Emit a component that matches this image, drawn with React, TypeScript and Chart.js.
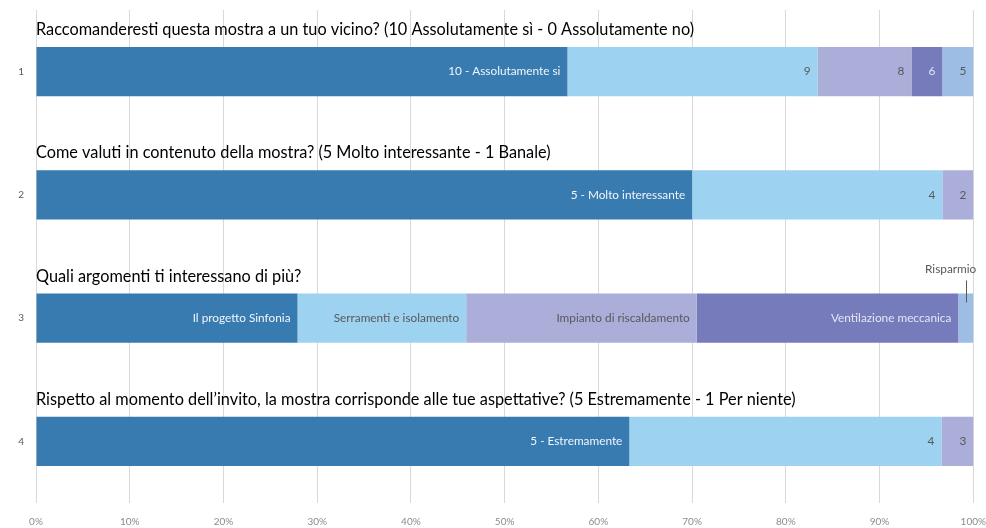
import React, { useEffect, useRef } from 'react';
import { Chart, registerables } from 'chart.js';

Chart.register(...registerables);

const categories = ['1', '2', '3', '4'];

const questions = [
  'Raccomanderesti questa mostra a un tuo vicino? (10 Assolutamente sì - 0 Assolutamente no)',
  'Come valuti in contenuto della mostra? (5 Molto interessante - 1 Banale)',
  'Quali argomenti ti interessano di più?',
  'Rispetto al momento dell’invito, la mostra corrisponde alle tue aspettative? (5 Estremamente - 1 Per niente)',
];

const q1Labels = ['10 - Assolutamente si', '9', '8', '6', '5'];
const q1Values = [56.7, 26.7, 10.0, 3.3, 3.3];

const q2Labels = ['5 - Molto interessante', '4', '2'];
const q2Values = [70.0, 26.7, 3.3];

const q3Labels = ['Il progetto Sinfonia', 'Serramenti e isolamento', 'Impianto di riscaldamento', 'Ventilazione meccanica', 'Risparmio'];
const q3Values = [27.9, 18.0, 24.6, 27.9, 1.6];

const q4Labels = ['5 - Estremamente', '4', '3'];
const q4Values = [63.3, 33.3, 3.4];

const segmentColors = ['#377bb0', '#9dd2f0', '#aaaed8', '#757bbb', '#9ebde4'];
const labelColors = ['#f2f5fa', '#595959', '#595959', '#e4e6f4', '#595959'];

const FONT = 'Lato, "Open Sans", sans-serif';

export default function App() {
  const ref = useRef<HTMLCanvasElement>(null);

  useEffect(() => {
    if (!ref.current) return;
    const rowLabels = [q1Labels, q2Labels, q3Labels, q4Labels];
    const rowValues = [q1Values, q2Values, q3Values, q4Values];

    const datasets = segmentColors.map((c, i) => ({
      label: 'Segmento ' + (i + 1),
      data: rowValues.map((r) => (r[i] === undefined ? null : r[i])),
      backgroundColor: c,
      borderWidth: 0,
      categoryPercentage: 1,
      barPercentage: 0.4,
    }));

    const annot = {
      id: 'annot',
      afterDatasetsDraw(chart: any) {
        const ctx = chart.ctx as CanvasRenderingContext2D;
        const area = chart.chartArea;
        ctx.save();
        const meta0 = chart.getDatasetMeta(0);
        meta0.data.forEach((bar: any, ri: number) => {
          const p = bar.getProps(['y', 'height'], true);
          ctx.font = '16.3px ' + FONT;
          ctx.fillStyle = '#000000';
          ctx.textAlign = 'left';
          ctx.textBaseline = 'middle';
          ctx.fillText(questions[ri], area.left, p.y - p.height / 2 - 17);
        });
        chart.data.datasets.forEach((ds: any, di: number) => {
          const meta = chart.getDatasetMeta(di);
          meta.data.forEach((bar: any, ri: number) => {
            const v = ds.data[ri];
            if (v === null || v === undefined) return;
            const label = rowLabels[ri][di];
            const p = bar.getProps(['x', 'y', 'base', 'height'], true);
            const left = Math.min(p.x, p.base);
            const right = Math.max(p.x, p.base);
            ctx.font = '11.8px ' + FONT;
            const w = ctx.measureText(label).width;
            if (w + 12 <= right - left) {
              ctx.fillStyle = labelColors[di];
              ctx.textAlign = 'right';
              ctx.textBaseline = 'middle';
              ctx.fillText(label, right - 7, p.y);
            } else {
              const cx = (left + right) / 2;
              const top = p.y - p.height / 2;
              ctx.strokeStyle = '#595959';
              ctx.lineWidth = 1;
              ctx.beginPath();
              ctx.moveTo(Math.round(cx) + 0.5, top - 13);
              ctx.lineTo(Math.round(cx) + 0.5, top + 9);
              ctx.stroke();
              ctx.fillStyle = '#595959';
              ctx.textAlign = 'right';
              ctx.textBaseline = 'middle';
              ctx.fillText(label, Math.min(right + 3, 984), top - 24);
            }
          });
        });
        ctx.restore();
      },
    };

    const chart = new Chart(ref.current, {
      type: 'bar',
      data: { labels: categories, datasets: datasets as any },
      options: {
        indexAxis: 'y',
        responsive: false,
        animation: false,
        layout: { padding: { top: 10, right: 12, left: 0, bottom: 0 } },
        plugins: {
          legend: { display: false },
          tooltip: { enabled: false },
          title: { display: false },
        },
        scales: {
          x: {
            stacked: true,
            min: 0,
            max: 100,
            grid: { color: '#d9d9d9', drawTicks: true, tickLength: 13, tickColor: 'rgba(0,0,0,0)', lineWidth: 1 },
            border: { display: false },
            ticks: {
              stepSize: 10,
              padding: 0,
              color: '#8c8c8c',
              font: { family: FONT, size: 10 },
              callback: (v: any) => v + '%',
            },
            afterFit: (scale: any) => {
              scale.height = 25;
            },
          },
          y: {
            stacked: true,
            grid: { display: false, drawTicks: true, tickLength: 12 },
            border: { display: false },
            ticks: {
              padding: 0,
              color: '#595959',
              font: { family: FONT, size: 10 },
            },
            afterFit: (scale: any) => {
              scale.width = 36;
            },
          },
        },
      },
      plugins: [annot],
    });
    return () => chart.destroy();
  }, []);

  return (
    <div style={{ position: 'fixed', left: 0, top: 0, width: 986, height: 528, background: '#ffffff' }}>
      <canvas ref={ref} width={986} height={528} style={{ display: 'block' }} />
    </div>
  );
}
